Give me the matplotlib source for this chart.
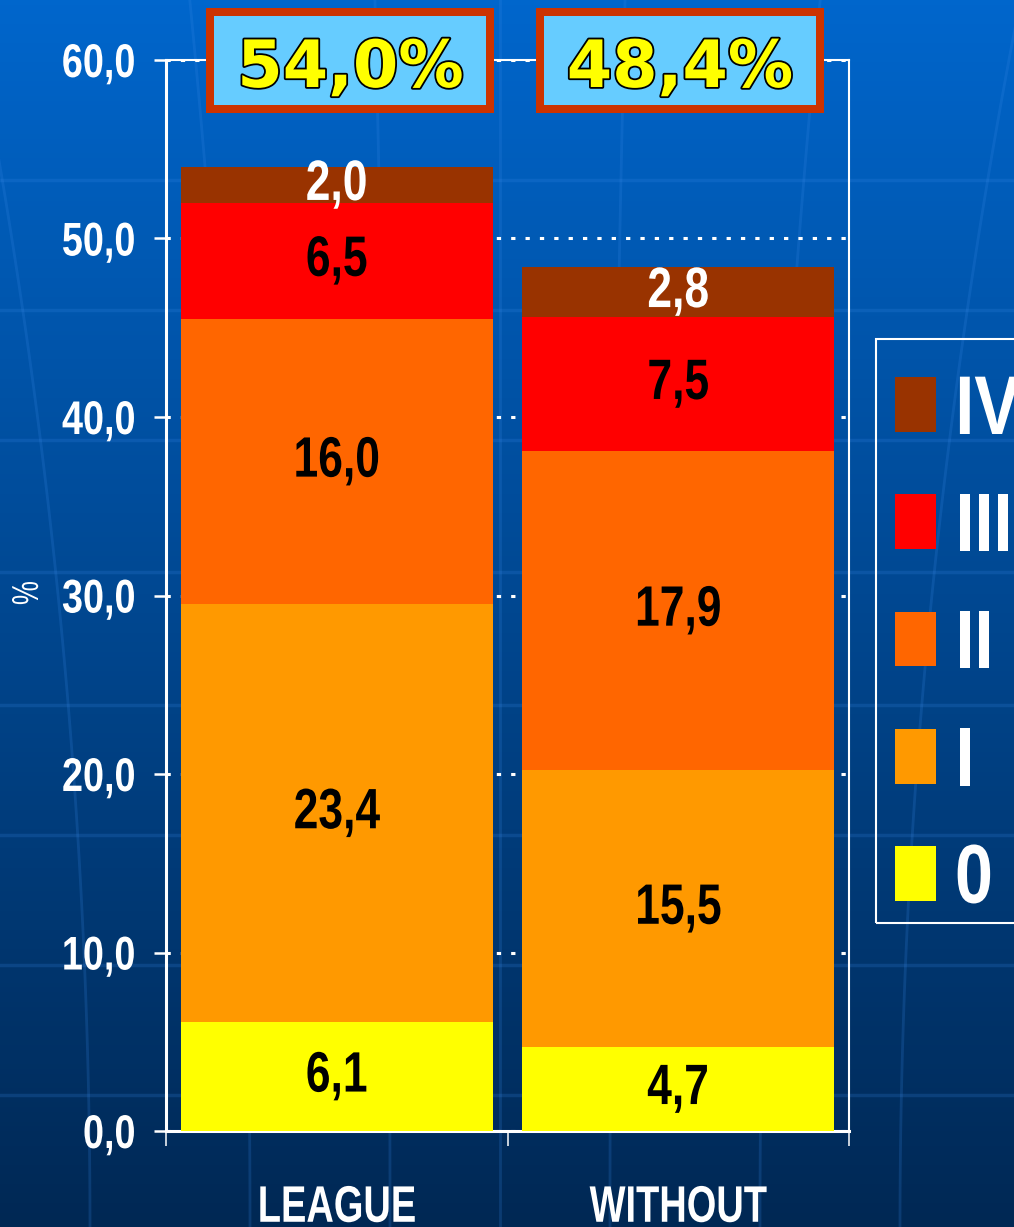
import matplotlib
matplotlib.use('Agg')
import matplotlib.pyplot as plt
import numpy as np
from matplotlib.patches import Patch, Rectangle
from matplotlib import patheffects as pe
from matplotlib.transforms import Affine2D
import matplotlib.transforms as mtransforms

# ---------------- data ----------------
categories = ['LEAGUE', 'WITHOUT']
grades = ['0', 'I', 'II', 'III', 'IV']
league = [6.1, 23.4, 16.0, 6.5, 2.0]
without = [4.7, 15.5, 17.9, 7.5, 2.8]
totals_text = ['54,0%', '48,4%']
yticks = [0, 10, 20, 30, 40, 50, 60]
yticklabels = ['0,0', '10,0', '20,0', '30,0', '40,0', '50,0', '60,0']
colors = ['#FFFF00', '#FF9900', '#FF6600', '#FF0000', '#993300']
label_colors = ['black', 'black', 'black', 'black', 'white']

plt.rcParams['font.family'] = ['Liberation Sans', 'DejaVu Sans']
plt.rcParams['font.weight'] = 'bold'


class Squeeze(pe.AbstractPathEffect):
    """Draw text condensed (narrow face look) around an anchor."""
    def __init__(self, sx=1.0, sy=1.0, anchor='center'):
        super().__init__()
        self.sx, self.sy, self.anchor = sx, sy, anchor

    def draw_path(self, renderer, gc, tpath, affine, rgbFace=None):
        ext = tpath.get_extents(affine)
        if self.anchor == 'left':
            cx = ext.x0
        elif self.anchor == 'right':
            cx = ext.x1
        else:
            cx = (ext.x0 + ext.x1) / 2
        cy = (ext.y0 + ext.y1) / 2
        aff = affine + Affine2D().translate(-cx, -cy).scale(self.sx, self.sy).translate(cx, cy)
        renderer.draw_path(gc, tpath, aff, rgbFace)


W, H = 1014, 1227
fig = plt.figure(figsize=(W / 100, H / 100), dpi=100)

# ---------------- background ----------------
bg = fig.add_axes([0, 0, 1, 1])
bg.set_xlim(0, W)
bg.set_ylim(H, 0)
bg.axis('off')
t = np.linspace(0, 1, 256)[:, None]
top = np.array([0, 102, 204]) / 255
bot = np.array([0, 40, 84]) / 255
grad = top[None, None, :] * (1 - t[:, :, None]) + bot[None, None, :] * t[:, :, None]
grad = np.repeat(grad, 2, axis=1)
bg.imshow(grad, extent=[0, W, H, 0], aspect='auto', zorder=0)
for yy in [180, 310, 440, 572, 705, 835, 965, 1095]:
    bg.plot([0, W], [yy, yy], color='#3a8ae8', alpha=0.2, lw=2.5, zorder=1)
ys = np.linspace(0, H, 100)
for x0, k in [(-60, 0.00012), (90, 0.00008), (250, 0.00004), (390, 0.00001),
              (500, 0.0), (610, -0.00001), (760, -0.00004), (900, -0.00008), (1060, -0.00012)]:
    xs = x0 - (H - ys) ** 2 * k
    bg.plot(xs, ys, color='#3a8ae8', alpha=0.2, lw=2, zorder=1)

# ---------------- main axes ----------------
ax = fig.add_axes([166 / W, 1 - 1131 / H, (849 - 166) / W, (1131 - 60) / H])
ax.patch.set_alpha(0)
x = np.arange(len(categories))
vals = np.array([league, without]).T
bottom = np.zeros(len(categories))
for i, g in enumerate(grades):
    ax.bar(x, vals[i], 0.914, bottom=bottom, color=colors[i], label=g, zorder=3)
    for j in range(len(categories)):
        v = vals[i][j]
        ax.text(x[j], bottom[j] + v / 2, f'{v:.1f}'.replace('.', ','),
                ha='center', va='center', fontsize=41, color=label_colors[i],
                zorder=4, path_effects=[Squeeze(0.78)])
    bottom = bottom + vals[i]

ax.set_xlim(-0.5, 1.5)
ax.set_ylim(0, 60)
ax.set_yticks(yticks)
ax.set_yticklabels(yticklabels)
ax.set_xticks(x)
ax.set_xticklabels(categories)
ax.set_xticks([-0.5, 0.5, 1.5], minor=True)
ax.tick_params(axis='y', colors='white', labelsize=34, length=8.6, width=1.8, pad=13)
ax.tick_params(axis='x', which='major', colors='white', labelsize=37, length=0, pad=38)
ax.tick_params(axis='x', which='minor', colors='white', length=11, width=1.1)
for lab in ax.get_yticklabels():
    lab.set_path_effects([Squeeze(0.8, anchor='right')])
for lab in ax.get_xticklabels():
    lab.set_path_effects([Squeeze(0.74)])
ax.set_axisbelow(True)
ax.yaxis.grid(True, color='white', linestyle=(0, (1.4, 3.3)), lw=2.2, zorder=1)
for s, lw in [('left', 2.2), ('bottom', 2.2), ('top', 1.5), ('right', 1.5)]:
    ax.spines[s].set_color('white')
    ax.spines[s].set_linewidth(lw)
ax.set_ylabel('%', color='white', fontsize=27)
ax.yaxis.label.set_va('center')
ax.yaxis.set_label_coords((28 - 166) / 683, (1131 - 593) / 1071)
ax.yaxis.label.set_path_effects([Squeeze(1.0, 0.72)])

# ---------------- total boxes ----------------
trans = mtransforms.blended_transform_factory(ax.transData, fig.transFigure)
bw = 288 / 341.5
bh_out = 105 / H
bord_x = 8 / 341.5
bord_y = 8 / H
y0 = 1 - 113 / H
for cx, txt in zip([0.04, 1.005], totals_text):
    ax.add_patch(Rectangle((cx - bw / 2, y0), bw, bh_out, transform=trans,
                           facecolor='#CC3300', edgecolor='none', zorder=6, clip_on=False))
    ax.add_patch(Rectangle((cx - bw / 2 + bord_x, y0 + bord_y), bw - 2 * bord_x,
                           bh_out - 2 * bord_y, transform=trans,
                           facecolor='#66CCFF', edgecolor='none', zorder=7, clip_on=False))
    ax.text(cx, 1 - 87 / H, txt, transform=trans, ha='center', va='baseline',
            fontsize=47, family='DejaVu Sans', fontweight='bold', color='#FFFF00',
            zorder=8, clip_on=False,
            path_effects=[pe.withStroke(linewidth=2.6, foreground='black')])

# ---------------- legend ----------------
handles = [Patch(facecolor=c, edgecolor='none') for c in colors][::-1]
labels = grades[::-1]
fs = 60
leg = fig.legend(handles, labels, loc='upper left',
                 bbox_to_anchor=(895 / W, 1 - 373 / H), frameon=False,
                 fontsize=fs, handlelength=41 / (fs * 100 / 72), handleheight=53 / (fs * 100 / 72),
                 handletextpad=0.22, labelspacing=0.47, borderpad=0, borderaxespad=0)
for tx in leg.get_texts():
    tx.set_color('white')
    tx.set_path_effects([Squeeze(0.82, anchor='left')])
fig.patches.append(Rectangle((876 / W, 1 - 923 / H), (1060 - 876) / W, (923 - 339) / H,
                             transform=fig.transFigure, fill=False, edgecolor='white',
                             linewidth=1.5, zorder=5))

fig.savefig('out.png', dpi=100)
